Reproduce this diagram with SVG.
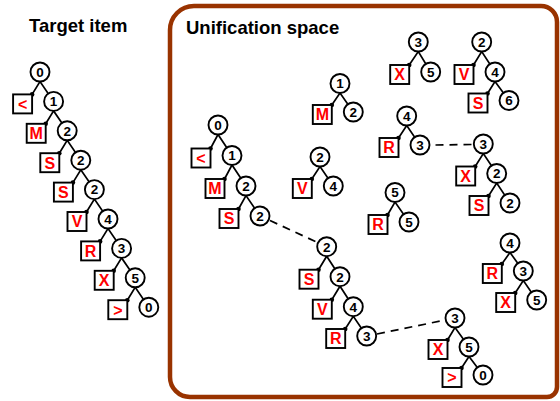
<svg xmlns="http://www.w3.org/2000/svg" width="560" height="401" viewBox="0 0 560 401">
  <style>
    .frame { fill: none; stroke: #993300; stroke-width: 4.5; }
    .title { font-family: "Liberation Sans", Arial, sans-serif; font-weight: bold; font-size: 18.5px; fill: #000; }
    .edge { fill: none; stroke: #000; stroke-width: 1.7; stroke-linejoin: miter; }
    .link { fill: none; stroke: #000; stroke-width: 1.7; stroke-dasharray: 8 6; }
    .dot { fill: #000; }
    .n circle { fill: #fff; stroke: #000; stroke-width: 1.9; }
    .n rect { fill: #fff; stroke: #000; stroke-width: 1.9; }
    .num { font-family: "Liberation Sans", Arial, sans-serif; font-weight: bold; font-size: 13.5px; fill: #000; text-anchor: middle; }
    .sym { font-family: "Liberation Sans", Arial, sans-serif; font-weight: bold; font-size: 16px; fill: #ff0000; text-anchor: middle; }
  </style>

  <!-- container for the unification space -->
  <path class="frame" d="M194,6 H541 A16,16 0 0 1 557,22 V387 A10,10 0 0 1 547,397 H190 A20,20 0 0 1 170,377 V30 A24,24 0 0 1 194,6 Z"/>

  <text class="title" x="29" y="31.5">Target item</text>
  <text class="title" x="186" y="34">Unification space</text>

  <!-- tree edges: box corner, parent bottom, child centre -->
  <g id="connectors">
    <!-- target item chain -->
    <path class="edge" d="M32.1,94.4 L40,81.5 L53.6,101.4"/>
    <path class="edge" d="M45.7,123.8 L53.6,110.9 L67.2,130.8"/>
    <path class="edge" d="M59.3,153.2 L67.2,140.3 L80.8,160.2"/>
    <path class="edge" d="M72.9,182.6 L80.8,169.7 L94.4,189.6"/>
    <path class="edge" d="M86.5,212 L94.4,199.1 L108,219"/>
    <path class="edge" d="M100.1,241.4 L108,228.5 L121.6,248.4"/>
    <path class="edge" d="M113.7,270.8 L121.6,257.9 L135.2,277.8"/>
    <path class="edge" d="M127.3,300.2 L135.2,287.3 L148.8,307.2"/>
    <!-- tree A -->
    <path class="edge" d="M210.5,148.5 L218,134.5 L232,155.5"/>
    <path class="edge" d="M224.5,179 L232,165 L246,186"/>
    <path class="edge" d="M238.5,209 L246,195.5 L260,216"/>
    <!-- tree B -->
    <path class="edge" d="M318.5,269.7 L326.7,256.2 L340,276.7"/>
    <path class="edge" d="M331.8,299.7 L340,286.2 L353.3,306.7"/>
    <path class="edge" d="M345.2,329 L353.3,316.2 L366.7,336"/>
    <!-- tree C -->
    <path class="edge" d="M447.5,340 L455,327.5 L469,347"/>
    <path class="edge" d="M461.5,368 L469,356.5 L483,375"/>
    <!-- tree D -->
    <path class="edge" d="M501.8,264 L510,252.5 L523.3,271"/>
    <path class="edge" d="M515.2,293 L523.3,280.5 L536.7,300"/>
    <!-- tree E -->
    <path class="edge" d="M409.2,65 L418.3,51.5 L430.7,72"/>
    <!-- tree F -->
    <path class="edge" d="M473.5,65 L481.7,51.5 L495,72"/>
    <path class="edge" d="M487.5,93.5 L495,81.5 L509,100.5"/>
    <!-- tree G -->
    <path class="edge" d="M398.5,138 L406.7,125.5 L420,145"/>
    <!-- tree H -->
    <path class="edge" d="M475.2,166.5 L483.3,153.5 L496.7,173.5"/>
    <path class="edge" d="M488.5,196 L496.7,183 L510,203"/>
    <!-- tree I -->
    <path class="edge" d="M387.5,215 L395,202 L409,222"/>
    <!-- tree J -->
    <path class="edge" d="M331.8,105 L340,93 L353.3,112"/>
    <!-- tree K -->
    <path class="edge" d="M311.8,179 L320,166.5 L333.3,186"/>

    <!-- unification links -->
    <line class="link" x1="270" y1="220.5" x2="318" y2="242.7"/>
    <line class="link" x1="377" y1="334" x2="445.5" y2="320"/>
    <line class="link" x1="435.5" y1="145" x2="471.5" y2="144.5"/>

    <!-- junction dots -->
    <g class="dot">
      <circle cx="32.1" cy="94.4" r="2.3"/>
      <circle cx="45.7" cy="123.8" r="2.3"/>
      <circle cx="59.3" cy="153.2" r="2.3"/>
      <circle cx="72.9" cy="182.6" r="2.3"/>
      <circle cx="86.5" cy="212" r="2.3"/>
      <circle cx="100.1" cy="241.4" r="2.3"/>
      <circle cx="113.7" cy="270.8" r="2.3"/>
      <circle cx="127.3" cy="300.2" r="2.3"/>
      <circle cx="210.5" cy="148.5" r="2.3"/>
      <circle cx="224.5" cy="179" r="2.3"/>
      <circle cx="238.5" cy="209" r="2.3"/>
      <circle cx="318.5" cy="269.7" r="2.3"/>
      <circle cx="331.8" cy="299.7" r="2.3"/>
      <circle cx="345.2" cy="329" r="2.3"/>
      <circle cx="447.5" cy="340" r="2.3"/>
      <circle cx="461.5" cy="368" r="2.3"/>
      <circle cx="501.8" cy="264" r="2.3"/>
      <circle cx="515.2" cy="293" r="2.3"/>
      <circle cx="409.2" cy="65" r="2.3"/>
      <circle cx="473.5" cy="65" r="2.3"/>
      <circle cx="487.5" cy="93.5" r="2.3"/>
      <circle cx="398.5" cy="138" r="2.3"/>
      <circle cx="475.2" cy="166.5" r="2.3"/>
      <circle cx="488.5" cy="196" r="2.3"/>
      <circle cx="387.5" cy="215" r="2.3"/>
      <circle cx="331.8" cy="105" r="2.3"/>
      <circle cx="311.8" cy="179" r="2.3"/>
    </g>
  </g>

  <!-- target item -->
  <g id="target-tree" class="n">
    <circle cx="40" cy="72" r="9.5"/><text class="num" x="40" y="76.8">0</text>
    <circle cx="53.6" cy="101.4" r="9.5"/><text class="num" x="53.6" y="106.2">1</text>
    <circle cx="67.2" cy="130.8" r="9.5"/><text class="num" x="67.2" y="135.6">2</text>
    <circle cx="80.8" cy="160.2" r="9.5"/><text class="num" x="80.8" y="165">2</text>
    <circle cx="94.4" cy="189.6" r="9.5"/><text class="num" x="94.4" y="194.4">2</text>
    <circle cx="108" cy="219" r="9.5"/><text class="num" x="108" y="223.8">4</text>
    <circle cx="121.6" cy="248.4" r="9.5"/><text class="num" x="121.6" y="253.2">3</text>
    <circle cx="135.2" cy="277.8" r="9.5"/><text class="num" x="135.2" y="282.6">5</text>
    <circle cx="148.8" cy="307.2" r="9.5"/><text class="num" x="148.8" y="312">0</text>
    <rect x="13.1" y="94.4" width="19" height="19"/><text class="sym" x="22.6" y="109.7">&lt;</text>
    <rect x="26.7" y="123.8" width="19" height="19"/><text class="sym" x="36.2" y="139.1">M</text>
    <rect x="40.3" y="153.2" width="19" height="19"/><text class="sym" x="49.8" y="168.5">S</text>
    <rect x="53.9" y="182.6" width="19" height="19"/><text class="sym" x="63.4" y="197.9">S</text>
    <rect x="67.5" y="212" width="19" height="19"/><text class="sym" x="77" y="227.3">V</text>
    <rect x="81.1" y="241.4" width="19" height="19"/><text class="sym" x="90.6" y="256.7">R</text>
    <rect x="94.7" y="270.8" width="19" height="19"/><text class="sym" x="104.2" y="286.1">X</text>
    <rect x="108.3" y="300.2" width="19" height="19"/><text class="sym" x="117.8" y="315.5">&gt;</text>
  </g>

  <g id="tree-a" class="n">
    <circle cx="218" cy="125" r="9.5"/><text class="num" x="218" y="129.8">0</text>
    <circle cx="232" cy="155.5" r="9.5"/><text class="num" x="232" y="160.3">1</text>
    <circle cx="246" cy="186" r="9.5"/><text class="num" x="246" y="190.8">2</text>
    <circle cx="260" cy="216" r="9.5"/><text class="num" x="260" y="220.8">2</text>
    <rect x="191.5" y="148.5" width="19" height="19"/><text class="sym" x="201" y="163.8">&lt;</text>
    <rect x="205.5" y="179" width="19" height="19"/><text class="sym" x="215" y="194.3">M</text>
    <rect x="219.5" y="209" width="19" height="19"/><text class="sym" x="229" y="224.3">S</text>
  </g>

  <g id="tree-b" class="n">
    <circle cx="326.7" cy="246.7" r="9.5"/><text class="num" x="326.7" y="251.5">2</text>
    <circle cx="340" cy="276.7" r="9.5"/><text class="num" x="340" y="281.5">2</text>
    <circle cx="353.3" cy="306.7" r="9.5"/><text class="num" x="353.3" y="311.5">4</text>
    <circle cx="366.7" cy="336" r="9.5"/><text class="num" x="366.7" y="340.8">3</text>
    <rect x="299.5" y="269.7" width="19" height="19"/><text class="sym" x="309" y="285">S</text>
    <rect x="312.8" y="299.7" width="19" height="19"/><text class="sym" x="322.3" y="315">V</text>
    <rect x="326.2" y="329" width="19" height="19"/><text class="sym" x="335.7" y="344.3">R</text>
  </g>

  <g id="tree-c" class="n">
    <circle cx="455" cy="318" r="9.5"/><text class="num" x="455" y="322.8">3</text>
    <circle cx="469" cy="347" r="9.5"/><text class="num" x="469" y="351.8">5</text>
    <circle cx="483" cy="375" r="9.5"/><text class="num" x="483" y="379.8">0</text>
    <rect x="428.5" y="340" width="19" height="19"/><text class="sym" x="438" y="355.3">X</text>
    <rect x="442.5" y="368" width="19" height="19"/><text class="sym" x="452" y="383.3">&gt;</text>
  </g>

  <g id="tree-d" class="n">
    <circle cx="510" cy="243" r="9.5"/><text class="num" x="510" y="247.8">4</text>
    <circle cx="523.3" cy="271" r="9.5"/><text class="num" x="523.3" y="275.8">3</text>
    <circle cx="536.7" cy="300" r="9.5"/><text class="num" x="536.7" y="304.8">5</text>
    <rect x="482.8" y="264" width="19" height="19"/><text class="sym" x="492.3" y="279.3">R</text>
    <rect x="496.2" y="293" width="19" height="19"/><text class="sym" x="505.7" y="308.3">X</text>
  </g>

  <g id="tree-e" class="n">
    <circle cx="418.3" cy="42" r="9.5"/><text class="num" x="418.3" y="46.8">3</text>
    <circle cx="430.7" cy="72" r="9.5"/><text class="num" x="430.7" y="76.8">5</text>
    <rect x="390.2" y="65" width="19" height="19"/><text class="sym" x="399.7" y="80.3">X</text>
  </g>

  <g id="tree-f" class="n">
    <circle cx="481.7" cy="42" r="9.5"/><text class="num" x="481.7" y="46.8">2</text>
    <circle cx="495" cy="72" r="9.5"/><text class="num" x="495" y="76.8">4</text>
    <circle cx="509" cy="100.5" r="9.5"/><text class="num" x="509" y="105.3">6</text>
    <rect x="454.5" y="65" width="19" height="19"/><text class="sym" x="464" y="80.3">V</text>
    <rect x="468.5" y="93.5" width="19" height="19"/><text class="sym" x="478" y="108.8">S</text>
  </g>

  <g id="tree-g" class="n">
    <circle cx="406.7" cy="116" r="9.5"/><text class="num" x="406.7" y="120.8">4</text>
    <circle cx="420" cy="145" r="9.5"/><text class="num" x="420" y="149.8">3</text>
    <rect x="379.5" y="138" width="19" height="19"/><text class="sym" x="389" y="153.3">R</text>
  </g>

  <g id="tree-h" class="n">
    <circle cx="483.3" cy="144" r="9.5"/><text class="num" x="483.3" y="148.8">3</text>
    <circle cx="496.7" cy="173.5" r="9.5"/><text class="num" x="496.7" y="178.3">2</text>
    <circle cx="510" cy="203" r="9.5"/><text class="num" x="510" y="207.8">2</text>
    <rect x="456.2" y="166.5" width="19" height="19"/><text class="sym" x="465.7" y="181.8">X</text>
    <rect x="469.5" y="196" width="19" height="19"/><text class="sym" x="479" y="211.3">S</text>
  </g>

  <g id="tree-i" class="n">
    <circle cx="395" cy="192.5" r="9.5"/><text class="num" x="395" y="197.3">5</text>
    <circle cx="409" cy="222" r="9.5"/><text class="num" x="409" y="226.8">5</text>
    <rect x="368.5" y="215" width="19" height="19"/><text class="sym" x="378" y="230.3">R</text>
  </g>

  <g id="tree-j" class="n">
    <circle cx="340" cy="83.5" r="9.5"/><text class="num" x="340" y="88.3">1</text>
    <circle cx="353.3" cy="112" r="9.5"/><text class="num" x="353.3" y="116.8">2</text>
    <rect x="312.8" y="105" width="19" height="19"/><text class="sym" x="322.3" y="120.3">M</text>
  </g>

  <g id="tree-k" class="n">
    <circle cx="320" cy="157" r="9.5"/><text class="num" x="320" y="161.8">2</text>
    <circle cx="333.3" cy="186" r="9.5"/><text class="num" x="333.3" y="190.8">4</text>
    <rect x="292.8" y="179" width="19" height="19"/><text class="sym" x="302.3" y="194.3">V</text>
  </g>
</svg>
